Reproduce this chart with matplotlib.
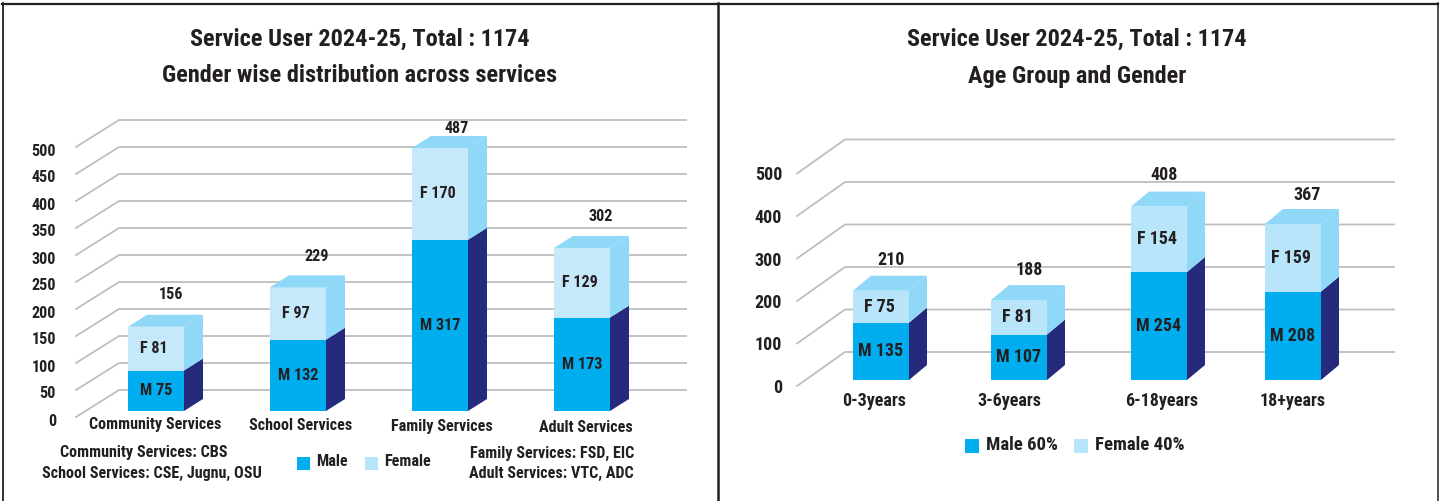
import matplotlib
matplotlib.use('Agg')
import matplotlib.pyplot as plt
from matplotlib.patches import Polygon, Rectangle

# datos del panel izquierdo
servicios = ['Community Services', 'School Services', 'Family Services', 'Adult Services']
male_serv = [75, 132, 317, 173]
female_serv = [81, 97, 170, 129]
total_serv = [156, 229, 487, 302]
ticks_serv = list(range(0, 501, 50))

# datos del panel derecho
edades = ['0-3years', '3-6years', '6-18years', '18+years']
male_edad = [135, 107, 254, 208]
female_edad = [75, 81, 154, 159]
total_edad = [210, 188, 408, 367]
ticks_edad = list(range(0, 501, 100))

W, H = 1440, 501
TXT = '#231f20'
C_MALE, C_MALE_SIDE = '#00aeef', '#262a7d'
C_FEM_SIDE = '#8fd8f8'
GRID = '#bcbec0'

plt.rcParams['font.family'] = ['Roboto Condensed', 'Liberation Sans']
plt.rcParams['font.weight'] = 'bold'


def panel(fig, cats, male, female, total, ticks, xs, bw, y0, scale, dep, wall, back, right_x,
          tick_x, tick_drop, total_off, cat_off, c_fem, fs):
    # un eje que cubre toda la figura; x en pixeles, y en valores
    ax = fig.add_axes([0, 0, 1, 1])
    ax.set_xlim(0, W)
    ax.set_ylim(-y0 / scale, (H - y0) / scale)
    ax.axis('off')
    ax.patch.set_alpha(0)
    d = lambda px: px / scale

    for v in ticks:
        ax.plot([wall[0], back[0], right_x], [v + d(wall[1]), v + d(back[1]), v + d(back[1])],
                color=GRID, lw=1.3, solid_joinstyle='miter', zorder=1)
        ax.text(tick_x, v - d(tick_drop), str(v), ha='right', va='center', fontsize=fs, color=TXT)

    ax.bar(xs, male, width=bw, align='edge', color=C_MALE, zorder=3)
    ax.bar(xs, female, width=bw, bottom=male, align='edge', color=c_fem, zorder=3)

    for i, x in enumerate(xs):
        m, t = male[i], total[i]
        xr = x + bw
        dx, dy = dep[0], d(dep[1])
        ax.add_patch(Polygon([(xr, 0), (xr + dx, dy), (xr + dx, m + dy), (xr, m)],
                             color=C_MALE_SIDE, lw=0, zorder=3))
        ax.add_patch(Polygon([(xr, m), (xr + dx, m + dy), (xr + dx, t + dy), (xr, t)],
                             color=C_FEM_SIDE, lw=0, zorder=3))
        ax.add_patch(Polygon([(x, t), (x + dx, t + dy), (xr + dx, t + dy), (xr, t)],
                             color=C_FEM_SIDE, lw=0, zorder=3))
        mid = x + bw / 2
        ax.text(mid, m / 2, f'M {m}', ha='center', va='center', fontsize=fs, color=TXT, zorder=5)
        ax.text(mid - 2, m + female[i] / 2, f'F {female[i]}', ha='center', va='center', fontsize=fs, color=TXT, zorder=5)
        ax.text(mid + total_off[i][0], t + d(total_off[i][1]), str(t), ha='center', va='center',
                fontsize=fs, color=TXT, zorder=5)
        ax.text(mid + cat_off[i][0], -d(cat_off[i][1]), cats[i], ha='center', va='center', fontsize=fs, color=TXT)
    return ax


def label(fig, x, y, s, fs, ha='center'):
    fig.text(x / W, 1 - y / H, s, ha=ha, va='center', fontsize=fs, color=TXT)


fig = plt.figure(figsize=(14.4, 5.01), dpi=100)

panel(fig, servicios, male_serv, female_serv, total_serv, ticks_serv, [128, 270, 412, 554], 56, 90, 0.54,
      (19, 12), (76, -6), (119, 21), 686, 56, 10,
      [(15, 32), (19, 31), (17, 20), (19, 31)], [(-1, 14), (3, 15), (2, 16), (4, 17)], '#c5e8fa', 11.6)
panel(fig, edades, male_edad, female_edad, total_edad, ticks_edad, [853, 991, 1131, 1265], 56, 121, 0.425,
      (18, 15), (797, -6), (845, 28), 1394, 782, 8,
      [(10, 31), (10, 30), (5, 32), (14, 29)], [(-7, 21), (-10, 21), (3, 21), (0, 21)], '#b9e5fb', 13)

label(fig, 360, 39, 'Service User 2024-25, Total : 1174', 17.5)
label(fig, 360, 76, 'Gender wise distribution across services', 17.5)
label(fig, 1077, 39, 'Service User 2024-25, Total : 1174', 17.5)
label(fig, 1077, 76, 'Age Group and Gender', 17.5)

label(fig, 144, 453, 'Community Services: CBS', 11.6)
label(fig, 152, 473, 'School Services: CSE, Jugnu, OSU', 11.6)
label(fig, 552, 453, 'Family Services: FSD, EIC', 11.6)
label(fig, 551, 473, 'Adult Services: VTC, ADC', 11.6)
label(fig, 316, 461, 'Male', 11.6, 'left')
label(fig, 384, 461, 'Female', 11.6, 'left')
label(fig, 986, 445, 'Male 60%', 13.5, 'left')
label(fig, 1095, 445, 'Female 40%', 13.5, 'left')

for (x, y, s, c) in [(297, 457, 13, C_MALE), (365, 457, 13, '#b9e5fb'), (965, 439, 14, C_MALE), (1074, 439, 14, '#b9e5fb')]:
    fig.add_artist(Rectangle((x / W, 1 - (y + s) / H), s / W, s / H, transform=fig.transFigure, color=c, lw=0))

# marcos de los paneles
for x, lw in [(3, 1.3), (718, 1.8), (1437.5, 1.1)]:
    fig.add_artist(plt.Line2D([x / W, x / W], [0, 1 - 3 / H], color=TXT, lw=lw))
fig.add_artist(plt.Line2D([2 / W, 1438 / W], [1 - 3.5 / H, 1 - 3.5 / H], color=TXT, lw=1.6))

fig.savefig('out.png', dpi=100)
